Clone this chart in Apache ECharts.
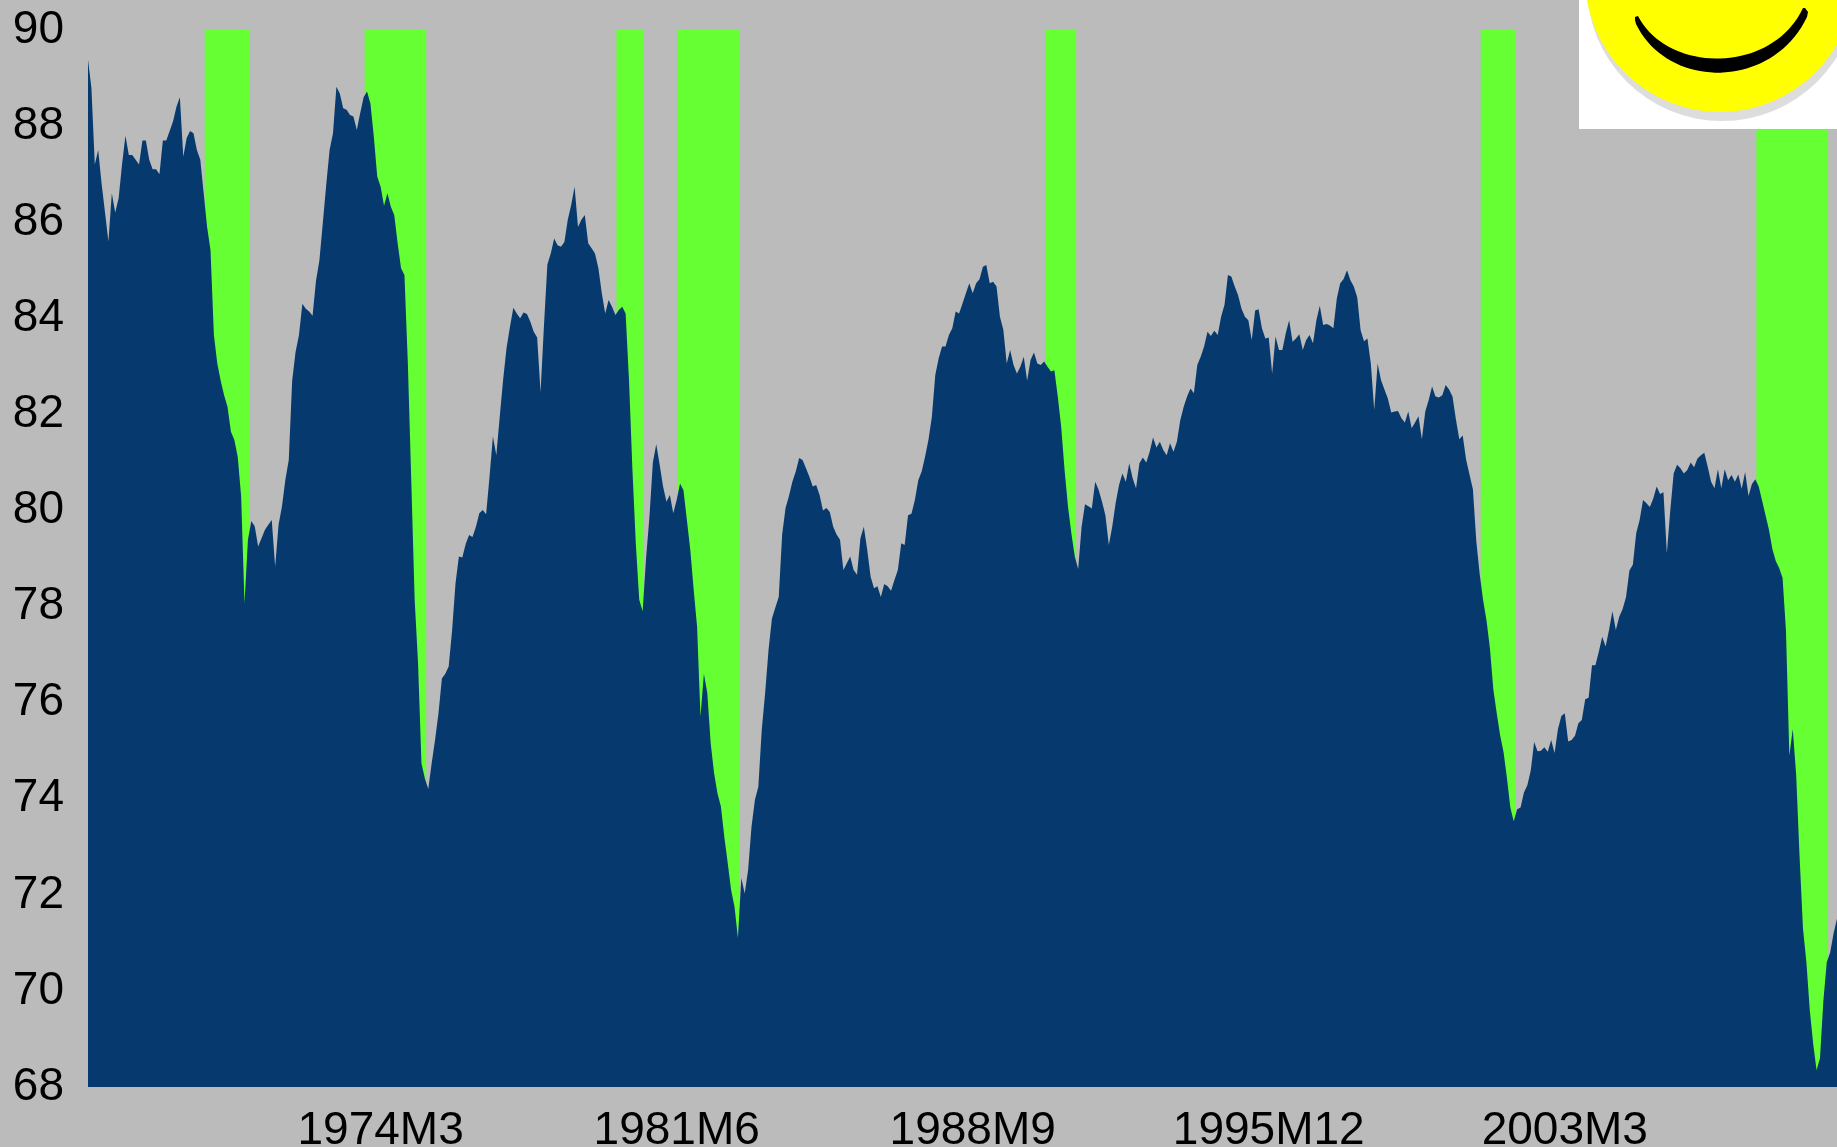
<!DOCTYPE html>
<html>
<head>
<meta charset="utf-8">
<style>html,body{margin:0;padding:0;background:#BBBBBB}#c{width:1837px;height:1147px}</style>
<script src="https://cdn.jsdelivr.net/npm/echarts@6/dist/echarts.min.js"></script>
</head>
<body>
<div id="c"></div>
<script>
const tickLabels = ['1974M3','1981M6','1988M9','1995M12','2003M3'];
const recessionStart = ['1969M12','1973M11','1980M1','1981M7','1990M7','2001M3','2007M12'];
const recessionEnd   = ['1970M12','1975M4','1980M8','1982M12','1991M3','2001M12','2009M8'];
const firstYear = 1967;
const util = [
89.38,88.8,87.2,87.5,86.8,86.2,85.6,86.6,86.2,86.5,87.2,87.8,
87.4,87.4,87.3,87.2,87.7,87.7,87.3,87.1,87.1,87.0,87.7,87.7,
87.9,88.1,88.4,88.6,87.36,87.75,87.9,87.85,87.5,87.3,86.6,85.9,
85.42,83.65,83.06,82.7,82.4,82.16,81.64,81.47,81.12,80.3,78.07,79.39,
79.78,79.67,79.25,79.42,79.6,79.7,79.8,78.83,79.7,80.08,80.64,81.05,
82.7,83.3,83.65,84.3,84.2,84.14,84.05,84.78,85.2,85.98,86.77,87.5,
87.85,88.82,88.68,88.37,88.34,88.23,88.2,87.92,88.27,88.6,88.72,88.47,
87.78,86.95,86.74,86.34,86.6,86.32,86.15,85.56,85.04,84.9,83.06,80.63,
78.14,76.82,74.74,74.42,74.2,74.74,75.23,75.78,76.5,76.6,76.75,77.5,
78.48,79.04,79.02,79.3,79.49,79.45,79.66,79.94,80.01,79.92,80.7,81.54,
81.15,81.95,82.72,83.38,83.82,84.22,84.1,84.0,84.12,84.09,83.93,83.72,
83.6,82.46,83.85,85.12,85.35,85.66,85.52,85.49,85.59,86.05,86.36,86.74,
85.9,86.05,86.15,85.56,85.46,85.35,85.04,84.52,84.1,84.38,84.24,84.07,
84.17,84.24,84.1,82.7,80.84,79.3,78.14,77.9,79.0,79.87,81.0,81.38,
80.95,80.5,80.18,80.32,79.94,80.22,80.56,80.42,79.8,79.18,78.35,77.58,
75.71,76.6,76.2,75.15,74.53,74.11,73.84,73.21,72.66,72.1,71.75,71.1,
72.35,72.03,72.52,73.42,73.98,74.25,75.43,76.2,77.1,77.75,77.98,78.2,
79.5,80.05,80.3,80.6,80.81,81.09,81.05,80.88,80.7,80.5,80.53,80.32,
80.0,80.05,79.97,79.66,79.5,79.39,78.76,78.9,79.04,78.76,78.66,79.42,
79.66,79.18,78.62,78.38,78.42,78.2,78.47,78.42,78.33,78.55,78.76,79.32,
79.28,79.9,79.93,80.22,80.63,80.81,81.12,81.47,81.95,82.82,83.17,83.41,
83.41,83.65,83.79,84.14,84.1,84.31,84.52,84.73,84.52,84.73,84.81,85.07,
85.11,84.73,84.76,84.66,84.03,83.76,83.06,83.34,83.03,82.85,82.99,83.2,
82.7,83.13,83.29,83.06,83.03,83.1,82.99,82.89,82.92,82.37,81.74,80.84,
80.08,79.52,79.04,78.78,79.66,80.13,80.09,80.04,80.6,80.43,80.18,79.9,
79.28,79.66,80.15,80.53,80.77,80.6,80.98,80.67,80.46,80.98,81.1,81.0,
81.22,81.52,81.31,81.43,81.26,81.15,81.4,81.22,81.43,81.88,82.16,82.37,
82.54,82.44,83.03,83.2,83.41,83.72,83.63,83.74,83.65,84.03,84.28,84.9,
84.87,84.66,84.48,84.2,84.03,83.96,83.55,84.16,84.19,83.79,83.58,83.6,
82.85,83.62,83.34,83.34,83.69,83.96,83.51,83.58,83.67,83.34,83.55,83.65,
83.48,83.96,84.26,83.86,83.88,83.85,83.79,84.41,84.73,84.82,85.0,84.79,
84.66,84.44,83.75,83.52,83.58,83.06,82.09,83.06,82.71,82.52,82.33,82.04,
82.06,82.07,81.92,81.83,82.06,81.71,81.83,81.96,81.48,82.06,82.3,82.58,
82.37,82.35,82.4,82.61,82.52,82.37,81.9,81.48,81.56,81.06,80.75,80.44,
79.36,78.67,78.13,77.71,77.13,76.28,75.78,75.32,74.97,74.43,73.82,73.53,
73.78,73.82,74.13,74.28,74.59,75.18,74.99,75.0,75.07,74.98,75.22,74.95,
75.45,75.72,75.78,75.19,75.22,75.31,75.57,75.64,76.07,76.1,76.78,76.78,
77.06,77.37,77.17,77.51,77.9,77.51,77.79,77.95,78.2,78.75,78.87,79.53,
79.8,80.22,80.15,80.07,80.25,80.5,80.34,80.38,79.11,80.0,80.77,80.95,
80.88,80.77,80.84,81.0,80.9,81.08,81.15,81.2,80.91,80.6,80.46,80.86,
80.46,80.86,80.63,80.74,80.6,80.75,80.45,80.8,80.3,80.55,80.65,80.5,
80.2,79.9,79.6,79.2,78.95,78.8,78.6,77.5,74.9,75.45,74.5,72.8,
71.3,70.6,69.6,68.9,68.35,68.6,69.8,70.6,70.8,71.2,71.5
];

const months = util.map((_, i) => (firstYear + Math.floor(i / 12)) + 'M' + (i % 12 + 1));
const bands = recessionStart.map((s, i) => [months.indexOf(s), months.indexOf(recessionEnd[i])]);

// Smile outline (decoration, not data): two cubic curves joined at rounded tips
function cubic(p0, p1, p2, p3, n) {
  const out = [];
  for (let k = 0; k <= n; k++) {
    const t = k / n, u = 1 - t;
    out.push([
      u*u*u*p0[0] + 3*u*u*t*p1[0] + 3*u*t*t*p2[0] + t*t*t*p3[0],
      u*u*u*p0[1] + 3*u*u*t*p1[1] + 3*u*t*t*p2[1] + t*t*t*p3[1]
    ]);
  }
  return out;
}
const smilePoints = cubic([1636,24],[1668,90],[1772,90],[1807,17],40)
  .concat([[1808,12],[1805,8]])
  .concat(cubic([1803,8],[1772,74],[1668,74],[1638,16],40))
  .concat([[1635,17],[1635,20]]);

const chart = echarts.init(document.getElementById('c'), null, {renderer: 'canvas'});
chart.setOption({
  animation: false,
  backgroundColor: '#BBBBBB',
  textStyle: {fontFamily: '"Liberation Sans", Arial, sans-serif'},
  grid: {left: 88, right: 0, top: 30, bottom: 60, containLabel: false, outerBoundsMode: 'none'},
  xAxis: {
    type: 'category', data: months, boundaryGap: false,
    axisLine: {show: false}, axisTick: {show: false}, splitLine: {show: false},
    axisLabel: {
      color: '#000', fontSize: 46, margin: 21,
      fontFamily: '"Liberation Sans", Arial, sans-serif',
      interval: (i, v) => tickLabels.includes(v), hideOverlap: false
    }
  },
  yAxis: {
    type: 'value', min: 68, max: 90, interval: 2,
    axisLine: {show: false}, axisTick: {show: false}, splitLine: {show: false},
    axisLabel: {color: '#000', fontSize: 46, margin: 24, padding: [7, 0, 0, 0], fontFamily: '"Liberation Sans", Arial, sans-serif'}
  },
  series: [
    {
      type: 'custom', z: 1, clip: true, silent: true,
      encode: {x: [0, 1]}, data: bands,
      renderItem(params, api) {
        const step = api.size([1, 0])[0];
        const a = api.coord([api.value(0), 90]);
        const b = api.coord([api.value(1), 68]);
        return {
          type: 'rect',
          shape: {x: a[0] - 0.7 * step, y: a[1], width: b[0] - a[0] + 1.1 * step, height: b[1] - a[1]},
          style: {fill: '#66FF33'}
        };
      }
    },
    {
      type: 'line', z: 2, data: util, showSymbol: false, symbol: 'none', smooth: false,
      lineStyle: {width: 0},
      areaStyle: {color: '#063A6E', opacity: 1, origin: 'start'}
    }
  ],
  graphic: [
    {type: 'rect', z: 100, silent: true, shape: {x: 1579, y: 0, width: 258, height: 129}, style: {fill: '#FFFFFF'}},
    {type: 'circle', z: 101, silent: true, shape: {cx: 1722, cy: -14, r: 135}, style: {fill: '#DDDDDD'}},
    {type: 'circle', z: 102, silent: true, shape: {cx: 1720, cy: -23, r: 135}, style: {fill: '#FFFF00'}},
    {type: 'polygon', z: 103, silent: true,
     shape: {points: smilePoints},
     style: {fill: '#000000'}}
  ]
});
</script>
</body>
</html>
